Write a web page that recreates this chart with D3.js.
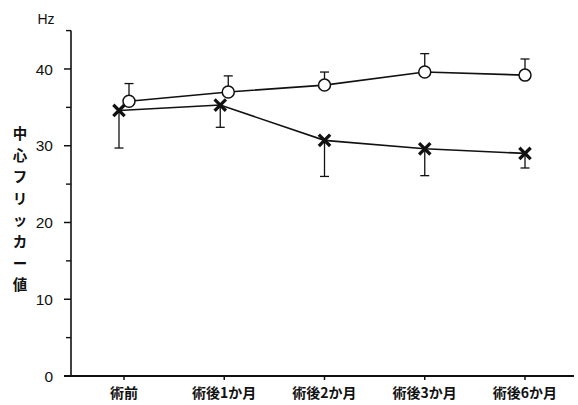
<!DOCTYPE html>
<html>
<head>
<meta charset="utf-8">
<script src="https://cdn.jsdelivr.net/npm/d3@7"></script>
<style>
  html, body { margin: 0; padding: 0; background: #fff; }
  svg { display: block; }
  text { font-family: "Noto Sans CJK JP", "Noto Sans", sans-serif; fill: #111; }
  text.num { font-family: "Liberation Sans", Arial, sans-serif; }
</style>
</head>
<body>
<svg id="chart" width="578" height="405"></svg>
<script>
// Critical flicker frequency before and after surgery
const categories = ["術前", "術後1か月", "術後2か月", "術後3か月", "術後6か月"];
const openMean = [35.8, 37.0, 37.9, 39.6, 39.2];
const openSD   = [2.3, 2.1, 1.7, 2.4, 2.1];
const crossMean = [34.6, 35.3, 30.7, 29.6, 29.0];
const crossSD   = [4.9, 2.9, 4.7, 3.5, 1.9];
const yTicks = [0, 10, 20, 30, 40];
const yMinorTicks = [5, 15, 25, 35, 45];
const yTitle = ["中", "心", "フ", "リ", "ッ", "カ", "ー", "値"];

const svg = d3.select("#chart");
const x = d3.scalePoint().domain(categories).range([124, 525]);
const y = d3.scaleLinear().domain([0, 45]).range([376, 30.6]);

// horizontal nudge so the first two overlapping points stay readable
const nudge = [5, 4, 0, 0, 0];

// y axis
const yAxis = svg.append("g").attr("transform", "translate(71,0)");
yAxis.append("line").attr("x1", 0).attr("x2", 0)
  .attr("y1", y(45)).attr("y2", y(0)).attr("stroke", "#111").attr("stroke-width", 1.6);
yAxis.selectAll("line.maj").data(yTicks).join("line").attr("class", "maj")
  .attr("x1", -7).attr("x2", 0).attr("y1", d => y(d)).attr("y2", d => y(d))
  .attr("stroke", "#111").attr("stroke-width", 1.5);
yAxis.selectAll("line.min").data(yMinorTicks).join("line").attr("class", "min")
  .attr("x1", -5).attr("x2", 0).attr("y1", d => y(d)).attr("y2", d => y(d))
  .attr("stroke", "#111").attr("stroke-width", 1.4);
yAxis.selectAll("text").data(yTicks).join("text").attr("class", "num")
  .attr("x", -18).attr("y", d => y(d)).attr("dy", "0.36em")
  .attr("text-anchor", "end").attr("font-size", 15.5).text(d => d);

svg.append("text").attr("class", "num").attr("x", 46).attr("y", 24).attr("text-anchor", "middle")
  .attr("font-size", 14).text("Hz");

// vertical axis title, one character per line
svg.append("g").selectAll("text").data(yTitle).join("text")
  .attr("x", 20).attr("y", (d, i) => 134 + i * 21.6)
  .attr("dy", "0.35em").attr("text-anchor", "middle")
  .attr("font-size", 14.5).attr("font-weight", 700).text(d => d);

// x axis
const xAxis = svg.append("g");
xAxis.append("line").attr("x1", 64).attr("x2", 574).attr("y1", y(0)).attr("y2", y(0))
  .attr("stroke", "#111").attr("stroke-width", 1.8);
xAxis.selectAll("line.t").data(categories).join("line").attr("class", "t")
  .attr("x1", d => x(d)).attr("x2", d => x(d))
  .attr("y1", y(0)).attr("y2", y(0) + 4).attr("stroke", "#111").attr("stroke-width", 1.5);
xAxis.selectAll("text").data(categories).join("text")
  .attr("x", d => x(d)).attr("y", 398).attr("text-anchor", "middle")
  .attr("font-size", 14).attr("font-weight", 700).text(d => d);

const ox = (d, i) => x(categories[i]) + nudge[i];
const cx = (d, i) => x(categories[i]) - nudge[i];

// error bars: open series upward, cross series downward
function errorBars(means, sds, xf, dir) {
  const g = svg.append("g").attr("stroke", "#111").attr("stroke-width", 1.3);
  g.selectAll("line.v").data(means).join("line").attr("class", "v")
    .attr("x1", xf).attr("x2", xf)
    .attr("y1", d => y(d)).attr("y2", (d, i) => y(d + dir * sds[i]));
  g.selectAll("line.c").data(means).join("line").attr("class", "c")
    .attr("x1", (d, i) => xf(d, i) - 4.5).attr("x2", (d, i) => xf(d, i) + 4.5)
    .attr("y1", (d, i) => y(d + dir * sds[i])).attr("y2", (d, i) => y(d + dir * sds[i]));
}
errorBars(openMean, openSD, ox, 1);
errorBars(crossMean, crossSD, cx, -1);

const line = xf => d3.line().x(xf).y(d => y(d));
svg.append("path").datum(crossMean).attr("d", line(cx))
  .attr("fill", "none").attr("stroke", "#111").attr("stroke-width", 1.6);
svg.append("path").datum(openMean).attr("d", line(ox))
  .attr("fill", "none").attr("stroke", "#111").attr("stroke-width", 1.6);

// cross markers
const crossG = svg.append("g").attr("stroke", "#111").attr("stroke-width", 3.3).attr("stroke-linecap", "square");
crossMean.forEach((d, i) => {
  const px = cx(d, i), py = y(d), s = 4.5;
  crossG.append("line").attr("x1", px - s).attr("y1", py - s).attr("x2", px + s).attr("y2", py + s);
  crossG.append("line").attr("x1", px - s).attr("y1", py + s).attr("x2", px + s).attr("y2", py - s);
});

// open circle markers
svg.append("g").selectAll("circle").data(openMean).join("circle")
  .attr("cx", ox).attr("cy", d => y(d)).attr("r", 6)
  .attr("fill", "#fff").attr("stroke", "#111").attr("stroke-width", 1.5);
</script>
</body>
</html>
